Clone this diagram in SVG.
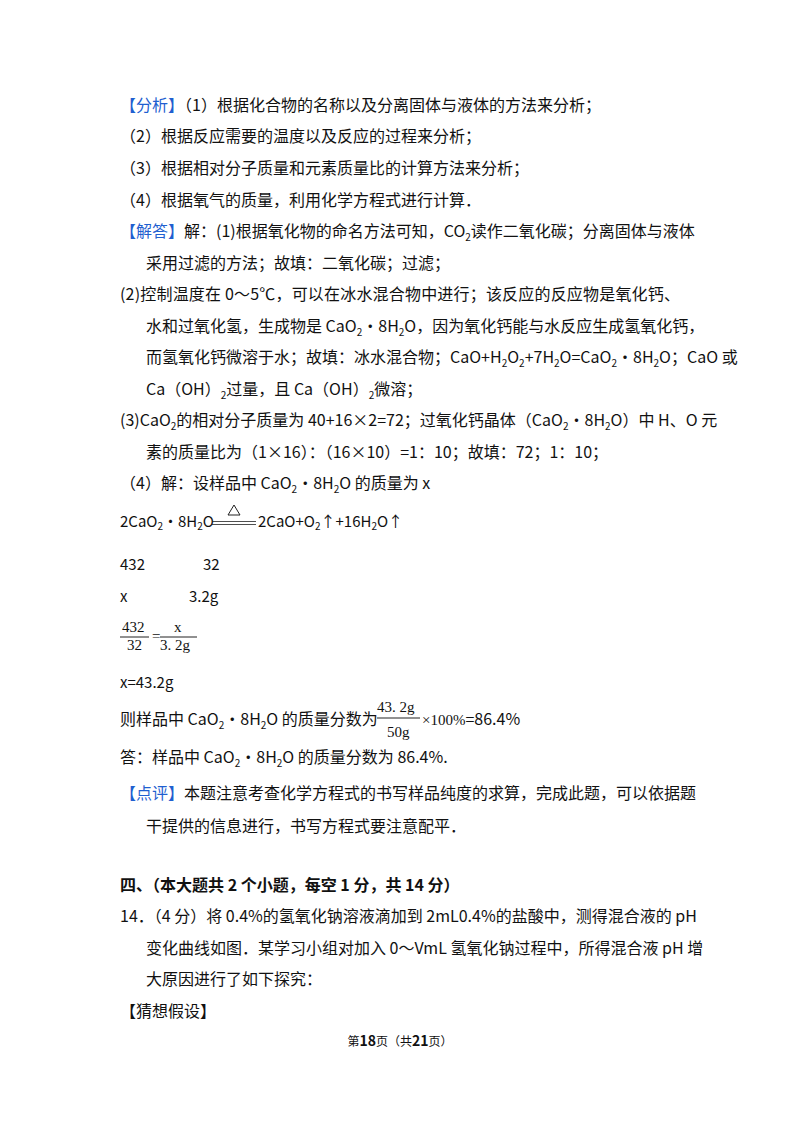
<svg xmlns="http://www.w3.org/2000/svg" width="800" height="1132" viewBox="0 0 800 1132">
<style>
text{font-family:"Noto Sans CJK SC","Noto Sans",sans-serif;font-size:16px;fill:#111}
.b{fill:#1f5fd0}
.s{font-size:10px}
.eq{font-size:15px}
.sf{font-family:"Liberation Serif","Noto Sans CJK SC",serif;font-size:15px}
.h{font-weight:bold}
</style>
<rect width="800" height="1132" fill="#fff"/>
<g id="text">
<text x="120" y="111"><tspan class="b">【分析】</tspan>（1）根据化合物的名称以及分离固体与液体的方法来分析；</text>
<text x="120" y="142">（2）根据反应需要的温度以及反应的过程来分析；</text>
<text x="120" y="174">（3）根据相对分子质量和元素质量比的计算方法来分析；</text>
<text x="120" y="206">（4）根据氧气的质量，利用化学方程式进行计算．</text>
<text x="120" y="237"><tspan class="b">【解答】</tspan>解：(1)根据氧化物的命名方法可知，CO<tspan class="s" dy="4">2</tspan><tspan dy="-4">读作二氧化碳；分离固体与液体</tspan></text>
<text x="146" y="269">采用过滤的方法；故填：二氧化碳；过滤；</text>
<text x="120" y="300" textLength="560" lengthAdjust="spacing">(2)控制温度在 0～5℃，可以在冰水混合物中进行；该反应的反应物是氧化钙、</text>
<text x="146" y="332">水和过氧化氢，生成物是 CaO<tspan class="s" dy="4">2</tspan><tspan dy="-4">•8H</tspan><tspan class="s" dy="4">2</tspan><tspan dy="-4">O，因为氧化钙能与水反应生成氢氧化钙，</tspan></text>
<text x="146" y="363">而氢氧化钙微溶于水；故填：冰水混合物；CaO+H<tspan class="s" dy="4">2</tspan><tspan dy="-4">O</tspan><tspan class="s" dy="4">2</tspan><tspan dy="-4">+7H</tspan><tspan class="s" dy="4">2</tspan><tspan dy="-4">O=CaO</tspan><tspan class="s" dy="4">2</tspan><tspan dy="-4">•8H</tspan><tspan class="s" dy="4">2</tspan><tspan dy="-4">O；CaO 或</tspan></text>
<text x="146" y="395">Ca（OH）<tspan class="s" dy="4">2</tspan><tspan dy="-4">过量，且 Ca（OH）</tspan><tspan class="s" dy="4">2</tspan><tspan dy="-4">微溶；</tspan></text>
<text x="120" y="426">(3)CaO<tspan class="s" dy="4">2</tspan><tspan dy="-4">的相对分子质量为 40+16×2=72；过氧化钙晶体（CaO</tspan><tspan class="s" dy="4">2</tspan><tspan dy="-4">•8H</tspan><tspan class="s" dy="4">2</tspan><tspan dy="-4">O）中 H、O 元</tspan></text>
<text x="146" y="458">素的质量比为（1×16）：（16×10）=1：10；故填：72；1：10；</text>
<text x="120" y="489">（4）解：设样品中 CaO<tspan class="s" dy="4">2</tspan><tspan dy="-4">•8H</tspan><tspan class="s" dy="4">2</tspan><tspan dy="-4">O 的质量为 x</tspan></text>
<text class="eq" x="120" y="527">2CaO<tspan class="s" dy="3">2</tspan><tspan dy="-3">•8H</tspan><tspan class="s" dy="3">2</tspan><tspan dy="-3">O</tspan></text>
<text class="eq" x="258" y="527">2CaO+O<tspan class="s" dy="3">2</tspan><tspan dy="-3">↑+16H</tspan><tspan class="s" dy="3">2</tspan><tspan dy="-3">O↑</tspan></text>
<text class="eq" x="120" y="570">432</text><text class="eq" x="203" y="570">32</text>
<text class="eq" x="120" y="602">x</text><text class="eq" x="189" y="602">3.2g</text>
<text class="sf" x="122" y="632">432</text><text class="sf" x="127" y="650">32</text>
<text class="sf" x="152" y="641">=</text>
<text class="sf" x="174" y="632">x</text><text class="sf" x="160" y="650">3. 2g</text>
<text class="eq" x="120" y="688">x=43.2g</text>
<text x="120" y="725">则样品中 CaO<tspan class="s" dy="4">2</tspan><tspan dy="-4">•8H</tspan><tspan class="s" dy="4">2</tspan><tspan dy="-4">O 的质量分数为</tspan></text>
<text class="sf" x="377" y="712">43. 2g</text><text class="sf" x="387" y="737">50g</text>
<text x="422" y="725"><tspan class="sf">×100%</tspan>=86.4%</text>
<text x="120" y="763">答：样品中 CaO<tspan class="s" dy="4">2</tspan><tspan dy="-4">•8H</tspan><tspan class="s" dy="4">2</tspan><tspan dy="-4">O 的质量分数为 86.4%.</tspan></text>
<text x="120" y="799"><tspan class="b">【点评】</tspan>本题注意考查化学方程式的书写样品纯度的求算，完成此题，可以依据题</text>
<text x="146" y="832">干提供的信息进行，书写方程式要注意配平．</text>
<text class="h" x="120" y="891">四、（本大题共 2 个小题，每空 1 分，共 14 分）</text>
<text x="120" y="922">14．（4 分）将 0.4%的氢氧化钠溶液滴加到 2mL0.4%的盐酸中，测得混合液的 pH</text>
<text x="146" y="954">变化曲线如图．某学习小组对加入 0～VmL 氢氧化钠过程中，所得混合液 pH 增</text>
<text x="146" y="985">大原因进行了如下探究：</text>
<text x="120" y="1017">【猜想假设】</text>
<text x="400" y="1046" text-anchor="middle" style="font-size:12px">第<tspan class="h" style="font-size:14px">18</tspan>页（共<tspan class="h" style="font-size:14px">21</tspan>页）</text>
</g>
<g id="lines" stroke="#222" fill="none">
<path d="M212 521.5H256M212 524.5H256" stroke-width="0.8"/>
<path d="M234 505L228 515H240Z" stroke-width="1"/>
<path d="M120 637H149M160 637H197M377 718H420" stroke-width="1"/>
</g>
</svg>
